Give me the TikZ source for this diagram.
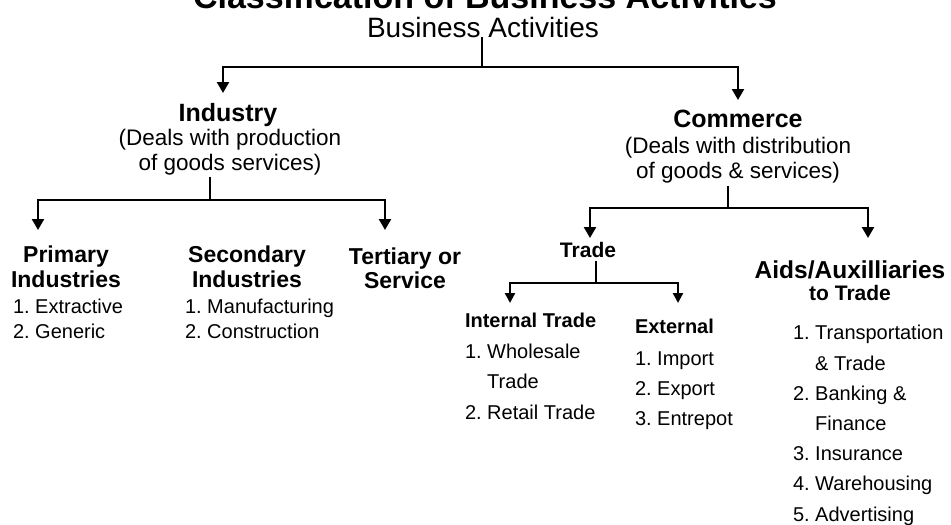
\documentclass[tikz,border=0pt]{standalone}
\usepackage{fontspec}
\setmainfont{Liberation Sans}
\usetikzlibrary{arrows.meta}
\frenchspacing
\begin{document}
\begin{tikzpicture}[x=1pt,y=-1pt,
  every node/.style={inner sep=0pt,outer sep=0pt},
  lbl/.style={anchor=base,align=center},
  lst/.style={anchor=base west,align=left,font=\fontsize{20}{30.3}\selectfont},
  ln/.style={line width=2.4pt},
  arr/.style={ln,-{Triangle[width=12pt,length=11pt]}},
  sarr/.style={ln,-{Triangle[width=10pt,length=10pt]}}]
\useasboundingbox (0,0) rectangle (951,525);
\clip (0,0) rectangle (951,525);
\fill[white] (0,0) rectangle (951,525);

% texts (multi-line nodes are placed by the baseline of their last line)
\node[lbl,font=\bfseries\fontsize{34}{40}\selectfont] (title) at (485,8) {Classification of Business Activities};
\node[lbl,font=\fontsize{28}{32}\selectfont] (ba) at (483,37) {Business Activities};

\node[lbl,font=\bfseries\fontsize{25}{30}\selectfont] (ind) at (228,121) {Industry};
\node[lbl,font=\fontsize{22.5}{25}\selectfont] (indd) at (230,170) {(Deals with production\\of goods services)};
\node[lbl,font=\bfseries\fontsize{25}{30}\selectfont] (com) at (738,127) {Commerce};
\node[lbl,font=\fontsize{22.5}{25}\selectfont] (comd) at (738,178) {(Deals with distribution\\of goods \& services)};

\node[lbl,font=\bfseries\fontsize{23}{25}\selectfont] (pri) at (66,287) {Primary\\Industries};
\node[lst,font=\fontsize{20}{25}\selectfont] (pril) at (13,338) {1. Extractive\\2. Generic};
\node[lbl,font=\bfseries\fontsize{23}{25}\selectfont] (sec) at (247,287) {Secondary\\Industries};
\node[lst,font=\fontsize{20}{25}\selectfont] (secl) at (185,338) {1. Manufacturing\\2. Construction};
\node[lbl,font=\bfseries\fontsize{23}{23.5}\selectfont] (ter) at (405,288) {Tertiary or\\Service};

\node[lbl,font=\bfseries\fontsize{21}{25}\selectfont] (trade) at (588,257) {Trade};
\node[lbl,font=\bfseries\fontsize{21}{22}\selectfont] (aids) at (850,300) {{\fontsize{24.5}{22}\selectfont Aids/Auxilliaries}\\to Trade};

\node[anchor=base west,font=\bfseries\fontsize{20}{24}\selectfont] (int) at (465,327) {Internal Trade};
\node[lst] (intl) at (465,419) {1. Wholesale\\\phantom{1. }Trade\\2. Retail Trade};
\node[anchor=base west,font=\bfseries\fontsize{20}{24}\selectfont] (ext) at (635,333) {External};
\node[lst,font=\fontsize{20}{30}\selectfont] (extl) at (635,425) {1. Import\\2. Export\\3. Entrepot};
\node[lst,font=\fontsize{20}{30.2}\selectfont] (aidl) at (793,521) {1. Transportation\\\phantom{1. }\& Trade\\2. Banking \&\\\phantom{2. }Finance\\3. Insurance\\4. Warehousing\\5. Advertising};

% junctions and arrow tips
\coordinate (j0) at (482,67);
\coordinate (tInd) at (223,93);
\coordinate (tCom) at (738,100);
\coordinate (j1) at (210,200);
\coordinate (tPri) at (38,230);
\coordinate (tTer) at (385,230);
\coordinate (j2) at (728,208);
\coordinate (tTra) at (590,238);
\coordinate (tAid) at (868,238);
\coordinate (j3) at (596,283);
\coordinate (tInt) at (510,303);
\coordinate (tExt) at (678,303);

% connectors
\draw[ln] (ba.south -| j0) -- (j0);
\draw[arr] (j0) -| (tInd);
\draw[arr] (j0) -| (tCom);

\draw[ln] ([yshift=-2pt]indd.south -| j1) -- (j1);
\draw[arr] (j1) -| (tPri);
\draw[arr] (j1) -| (tTer);

\draw[ln] ([yshift=-3pt]comd.south -| j2) -- (j2);
\draw[arr] (j2) -| (tTra);
\draw[arr] (j2) -| (tAid);

\draw[ln] ([yshift=-4pt]trade.south -| j3) -- (j3);
\draw[sarr] (j3) -| (tInt);
\draw[sarr] (j3) -| (tExt);
\end{tikzpicture}
\end{document}
